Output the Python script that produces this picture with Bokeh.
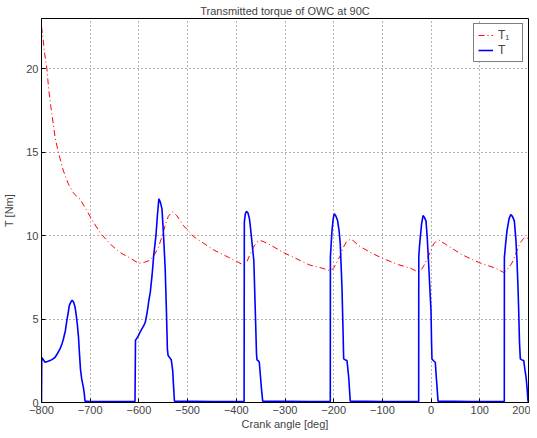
from bokeh.plotting import figure
from bokeh.models import Range1d, Legend, LegendItem, FixedTicker
from bokeh.embed import file_html
from bokeh.resources import INLINE

# ---------------- data ----------------
t1_angle = [-800, -797.5, -794, -789, -785, -780.5, -776, -772, -765.5, -760, -755, -745, -735, -728,
            -721, -710.7, -697, -680, -659, -639, -618, -600, -588, -577, -568, -560, -553, -546,
            -539.6, -534, -530, -522, -508, -487.5, -470, -446, -415.6, -395, -386, -378, -372, -365,
            -358, -352, -345, -327, -306, -279, -251, -224, -206, -199, -193, -186.5, -180, -174,
            -166, -160, -148.7, -124.8, -101, -66.5, -42.6, -25.5, -19, -15, -5, 5, 10, 15.6, 20,
            29, 63.5, 97.7, 131.8, 149, 155, 159, 165, 169.6, 175, 180, 185, 190, 195, 200]
t1_value = [22.5, 22.0, 21.0, 20.0, 18.7, 17.66, 16.7, 15.87, 15.0, 14.4, 13.87, 13.1, 12.58, 12.35,
            12.18, 11.68, 10.98, 10.18, 9.49, 8.99, 8.65, 8.33, 8.4, 8.53, 8.85, 9.29, 9.9, 10.6,
            11.15, 11.35, 11.42, 11.18, 10.58, 9.93, 9.59, 9.13, 8.69, 8.38, 8.25, 8.45, 8.85, 9.3,
            9.6, 9.7, 9.65, 9.39, 9.02, 8.65, 8.25, 8.05, 7.88, 8.1, 8.45, 8.79, 9.3, 9.62,
            9.78, 9.7, 9.39, 8.99, 8.65, 8.25, 8.05, 7.8, 8.0, 8.19, 8.79, 9.49, 9.65, 9.73, 9.65,
            9.49, 8.85, 8.39, 8.05, 7.79, 7.9, 8.09, 8.3, 8.59, 9.0, 9.39, 9.65, 9.83, 9.88, 9.82]

t_angle = [-800, -799.5, -796, -792.8, -788, -782.5, -777, -772, -767, -762, -758, -755, -751, -748,
           -745, -743, -740, -737, -734, -731, -729, -726.5, -724, -722.4, -720, -717.5, -714, -712,
           -710.7, -700, -650, -608,
           -607, -603, -600.5, -597, -593.6, -590, -586.8, -583, -580, -576.6, -573, -569.6, -565,
           -562, -559, -556, -552.6, -549, -546, -543.5, -541.5, -540, -537, -533.5, -530.6, -528.5,
           -527, -450, -385,
           -384, -383.5, -381.5, -379, -376, -373, -371, -367.5, -364, -361, -358.5, -357.5, -355,
           -352.8, -350.5, -348.6, -345.8, -250, -208,
           -207, -206.8, -205, -203.5, -201, -199, -196, -192, -189, -186.5, -184.5, -183, -181,
           -179.5, -176, -172.7, -169.2, -166, -100, -26,
           -25.5, -25.3, -24, -22.2, -19.5, -16.6, -14, -10.5, -8, -5, -2.5, -0.2, 1, 1.8, 5, 8.6,
           10.7, 12.5, 14.2, 80, 150,
           150.3, 150.5, 153, 155.9, 160, 163.5, 167, 170.9, 174, 176.4, 178.3, 179.9, 181.5, 183.2,
           186.5, 190.2, 192.5, 195, 197, 199, 200]
t_value = [0.05, 2.7, 2.55, 2.41, 2.45, 2.51, 2.6, 2.71, 2.95, 3.21, 3.5, 3.8, 4.3, 4.9,
           5.4, 5.8, 6.0, 6.12, 6.0, 5.7, 5.3, 4.7, 3.9, 3.11, 2.0, 1.41, 0.91, 0.5,
           0.08, 0.06, 0.06, 0.06,
           3.73, 3.9, 4.03, 4.25, 4.42, 4.6, 4.82, 5.4, 6.02, 6.61, 7.61, 8.81, 10.0,
           11.2, 12.2, 12.0, 11.6, 9.8, 8.0, 5.5, 3.2, 2.81, 2.7, 2.55, 1.91, 0.8,
           0.08, 0.06, 0.06,
           0.06, 10.8, 11.3, 11.45, 11.35, 11.0, 10.5, 9.5, 8.49, 5.5, 2.9, 2.55, 2.5,
           2.41, 1.6, 0.91, 0.08, 0.06, 0.06,
           0.06, 8.7, 9.6, 10.29, 11.0, 11.3, 11.2, 10.9, 10.3, 9.49, 8.0, 6.9, 4.5,
           2.61, 2.55, 2.51, 1.51, 0.08, 0.06, 0.06,
           0.06, 8.7, 9.3, 9.89, 10.7, 11.2, 11.1, 10.88, 9.9, 8.29, 6.8, 5.5, 3.5, 2.61, 2.5, 2.41,
           1.51, 0.8, 0.08, 0.06, 0.06,
           0.06, 8.7, 9.5, 10.29, 11.0, 11.25, 11.15, 10.88, 9.8, 8.49, 7.0, 5.5, 3.6, 2.61,
           2.55, 2.51, 2.0, 1.51, 0.9, 0.08, 0.06]

x_ticks = [-800, -700, -600, -500, -400, -300, -200, -100, 0, 100, 200]
x_tick_labels = ["\u2212800", "\u2212700", "\u2212600", "\u2212500", "\u2212400", "\u2212300",
                 "\u2212200", "\u2212100", "0", "100", "200"]
y_ticks = [0, 5, 10, 15, 20]
y_tick_labels = ["0", "5", "10", "15", "20"]

title_text = "Transmitted torque of OWC at 90C"
x_label = "Crank angle [deg]"
y_label = "T [Nm]"
legend_labels = ["T\u2081", "T"]

FONT = "Liberation Sans"

# ---------------- figure ----------------
p = figure(frame_width=487, frame_height=384, output_backend="svg", toolbar_location=None,
           x_range=Range1d(-800, 200), y_range=Range1d(0, 23),
           min_border_left=2, min_border_right=2, min_border_top=2, min_border_bottom=2,
           background_fill_color="white", border_fill_color="white")

p.title.text = title_text
p.title.text_font = FONT
p.title.text_font_size = "11px"
p.title.text_font_style = "normal"
p.title.align = "center"
p.title.standoff = 4
p.title.offset = 0

p.outline_line_color = "black"
p.outline_line_width = 1

r1 = p.line(t1_angle, t1_value, line_color="#ff0000", line_width=1, line_dash="6 3 1 3")
r2 = p.line(t_angle, t_value, line_color="#0000ff", line_width=1.6)

for ax in (p.xaxis[0], p.yaxis[0]):
    ax.major_label_text_font = FONT
    ax.major_label_text_font_size = "11px"
    ax.axis_label_text_font = FONT
    ax.axis_label_text_font_size = "11px"
    ax.axis_label_text_font_style = "normal"
    ax.major_tick_in = 4
    ax.major_tick_out = 0
    ax.minor_tick_in = 0
    ax.minor_tick_out = 0
    ax.axis_line_color = "black"
    ax.major_tick_line_color = "black"
    ax.major_label_standoff = 3

p.xaxis[0].ticker = FixedTicker(ticks=x_ticks)
p.xaxis[0].major_label_overrides = dict(zip(x_ticks, x_tick_labels))
p.xaxis[0].axis_label = x_label
p.xaxis[0].axis_label_standoff = 1
p.yaxis[0].ticker = FixedTicker(ticks=y_ticks)
p.yaxis[0].major_label_overrides = dict(zip(y_ticks, y_tick_labels))
p.yaxis[0].axis_label = y_label
p.yaxis[0].axis_label_standoff = 8

p.xgrid.ticker = FixedTicker(ticks=x_ticks)
p.ygrid.ticker = FixedTicker(ticks=y_ticks)
for g in (p.xgrid[0], p.ygrid[0]):
    g.grid_line_color = "#666666"
    g.grid_line_dash = "1 3"
    g.grid_line_width = 1

legend = Legend(items=[LegendItem(label=legend_labels[0], renderers=[r1]),
                       LegendItem(label=legend_labels[1], renderers=[r2])],
                location="top_right")
legend.label_text_font = FONT
legend.label_text_font_size = "12px"
legend.border_line_color = "black"
legend.border_line_width = 1
legend.background_fill_alpha = 1
legend.glyph_width = 15
legend.glyph_height = 12
legend.label_height = 12
legend.label_standoff = 5
legend.spacing = 1
legend.padding = 4
legend.margin = 5
p.add_layout(legend, "center")

open("out.html", "w").write(file_html(p, INLINE))
